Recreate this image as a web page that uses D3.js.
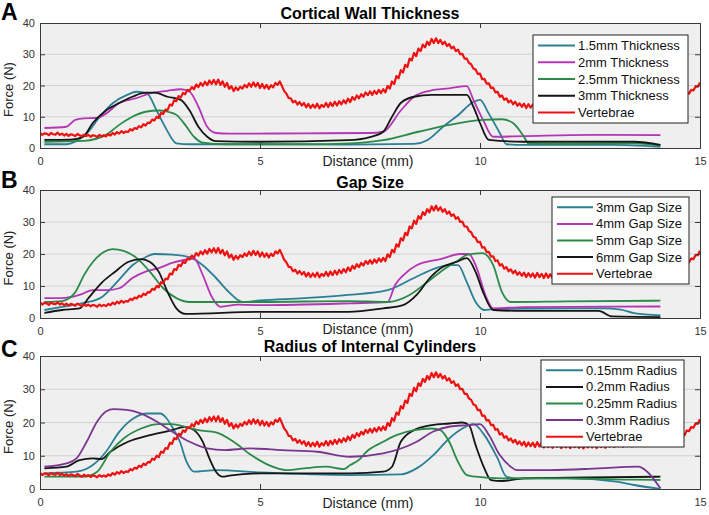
<!DOCTYPE html>
<html>
<head>
<meta charset="utf-8">
<script src="https://cdn.jsdelivr.net/npm/d3@7"></script>
<style>
  body { margin: 0; background: #fff; }
  svg text { font-family: Arial, "Liberation Sans", Helvetica, sans-serif; }
</style>
</head>
<body>
<svg id="chart" width="709" height="515"></svg>
<script>
// ---- data (distance in mm, force in N) ----
const xTicks = [0, 5, 10, 15]
const yTicks = [0, 10, 20, 30, 40]
const panelLetters = ['A', 'B', 'C']
const panelTitles = ['Cortical Wall Thickness', 'Gap Size', 'Radius of Internal Cylinders']

const legendA = ['1.5mm Thickness', '2mm Thickness', '2.5mm Thickness', '3mm Thickness', 'Vertebrae']
const legendB = ['3mm Gap Size', '4mm Gap Size', '5mm Gap Size', '6mm Gap Size', 'Vertebrae']
const legendC = ['0.15mm Radius', '0.2mm Radius', '0.25mm Radius', '0.3mm Radius', 'Vertebrae']

// vertebrae force, one reading every 0.05 mm from 0 to 15 mm (noisy trace)
const vertebrae = [
  4.9, 4.2, 4.7, 4.6, 4.1, 4.8, 4.4, 4.3, 4.9, 4.2,
  4.6, 4.0, 4.5, 3.9, 4.4, 4.2, 3.8, 4.5, 4.1, 3.7,
  4.3, 3.8, 4.2, 3.6, 4.1, 3.9, 3.5, 4.2, 3.7, 4.1,
  3.7, 4.4, 4.0, 4.8, 4.3, 5.1, 4.6, 5.4, 4.8, 5.3,
  5.1, 6.0, 5.6, 6.4, 6.1, 7.0, 6.6, 7.6, 7.2, 8.1,
  8.0, 9.1, 8.8, 10.0, 9.6, 11.2, 10.9, 12.3, 12.1, 13.9,
  13.6, 15.3, 15.0, 16.6, 16.2, 17.6, 17.2, 18.6, 18.3, 19.5,
  18.8, 20.3, 19.5, 20.8, 19.9, 21.2, 20.1, 21.6, 20.5, 21.8,
  20.4, 21.9, 20.2, 21.3, 19.6, 20.8, 18.9, 19.8, 18.2, 19.4,
  18.5, 19.6, 19.0, 20.2, 19.4, 20.7, 19.6, 21.0, 19.7, 20.8,
  19.2, 20.5, 19.1, 20.2, 18.9, 20.1, 19.4, 20.8, 20.2, 21.3,
  19.8, 18.2, 17.4, 16.0, 15.9, 14.6, 15.1, 13.9, 14.7, 13.6,
  14.4, 13.0, 14.1, 12.8, 13.9, 12.9, 14.2, 12.7, 13.8, 13.1,
  14.4, 13.1, 14.5, 13.4, 14.8, 13.6, 15.0, 14.0, 15.3, 14.3,
  15.8, 14.7, 16.3, 15.4, 16.8, 15.9, 17.2, 16.4, 17.8, 16.9,
  18.1, 17.0, 18.3, 17.3, 18.6, 17.6, 18.8, 17.8, 19.9, 19.0,
  21.3, 20.5, 23.0, 22.3, 24.9, 24.2, 26.6, 25.9, 28.6, 28.0,
  30.4, 29.4, 31.8, 31.0, 33.1, 32.2, 34.0, 33.0, 34.9, 33.6,
  35.1, 33.6, 34.6, 33.2, 34.0, 32.6, 33.3, 31.9, 32.4, 31.0,
  31.5, 30.0, 30.1, 28.6, 28.6, 27.2, 26.8, 25.4, 25.1, 23.7,
  23.8, 22.0, 22.1, 20.6, 20.7, 19.2, 19.3, 17.8, 18.0, 16.4,
  16.8, 15.4, 15.9, 14.6, 15.2, 14.0, 14.8, 13.5, 14.3, 13.2,
  14.2, 12.8, 14.0, 12.9, 13.9, 12.6, 14.1, 12.8, 13.8, 12.5,
  13.9, 12.6, 13.7, 12.4, 13.8, 12.7, 13.5, 12.3, 13.6, 12.5,
  13.7, 12.3, 13.5, 12.6, 13.8, 12.4, 13.4, 12.2, 13.6, 12.5,
  13.8, 12.5, 13.6, 12.3, 13.9, 12.6, 13.7, 12.4, 13.8, 12.7,
  13.9, 12.6, 13.8, 12.8, 14.0, 12.7, 13.9, 12.9, 14.1, 12.8,
  14.0, 12.9, 14.2, 13.0, 14.1, 12.9, 14.3, 13.1, 14.2, 13.2,
  14.4, 13.3, 14.6, 13.8, 15.0, 14.3, 15.5, 14.9, 16.0, 15.4,
  16.3, 15.6, 16.9, 16.2, 17.6, 17.4, 18.6, 18.4, 19.7, 19.6,
  21.0
]

// A: cortical wall thickness
const thick15 = [[0.1,1.2],[0.6,1.2],[0.8,2],[1.07,4.8],[1.36,10],[1.66,14.4],[1.98,17],[2.2,18],[2.43,17.5],[2.65,12],[2.88,5.8],[3.1,1.5],[3.4,1.2],[5,1.2],[7,1.1],[8.5,1.3],[8.8,2.5],[9.16,6.8],[9.5,10.5],[9.85,14.7],[10,15.4],[10.2,11],[10.45,4.8],[10.6,1.2],[11,1],[13,1],[14.1,0.4]]
const thick2 = [[0.1,6.4],[0.6,6.8],[0.8,9],[1,9.5],[1.3,9.6],[1.5,11],[1.8,14.4],[2.2,16],[2.5,17.5],[2.9,18.3],[3.2,18.8],[3.4,18],[3.6,13.2],[3.8,6.8],[4,4.8],[4.3,4.6],[6,4.7],[7.5,4.8],[7.8,5.2],[8.2,12],[8.5,16.4],[8.86,18.3],[9.3,19.1],[9.7,19.8],[9.85,15.4],[10.07,9],[10.3,3.6],[11,3.8],[12.5,4.2],[14.1,4.1]]
const thick25 = [[0.1,2],[1,2.3],[1.5,4.2],[1.8,7.4],[2.1,10],[2.4,11.6],[2.7,12],[2.9,11.6],[3.1,10.6],[3.3,7.4],[3.5,3.6],[3.7,1.7],[4.2,1.2],[6,1.2],[7.05,1.5],[7.8,2.5],[8.6,5.2],[9.3,7.4],[10.07,9],[10.5,9.2],[10.75,8],[11,3.6],[11.1,1.5],[12,1.3],[13.5,1.5],[14.1,0.8]]
const thick3 = [[0.1,2.6],[0.7,2.7],[0.98,3.6],[1.2,8],[1.5,12],[1.8,14.4],[2.1,16.4],[2.4,17.7],[2.6,17.7],[2.9,16.4],[3.2,15.4],[3.4,12],[3.6,6.8],[3.8,3.6],[4,2.2],[5,2],[7,2.5],[7.5,3.5],[7.8,5.2],[8,10],[8.2,14.4],[8.5,16.4],[8.9,17],[9.5,17],[9.7,17],[9.85,13.2],[10,8],[10.2,2.6],[11,2],[13.5,2],[14.1,1]]

// B: gap size
const gap3 = [[0.1,2.5],[0.5,3.5],[1,4.7],[1.4,6.5],[1.8,12],[2.1,16.5],[2.4,19],[2.6,20],[3,19.8],[3.4,19],[3.7,16.5],[4,12.5],[4.3,8],[4.6,5],[5,5.5],[6,6.2],[7,7.2],[7.9,8.7],[8.5,12.5],[9,15.6],[9.3,16.5],[9.5,16.5],[9.7,11.2],[9.9,5],[10.1,2.5],[10.3,2.8],[12.8,3],[13.2,2.6],[13.5,1.5],[14.1,0.8]]
const gap4 = [[0.1,6.2],[0.5,6.2],[0.9,7.2],[1.2,8.7],[1.5,8.7],[1.8,9.3],[2.1,12.5],[2.4,14.5],[2.7,15.6],[3,17.2],[3.3,18.2],[3.5,18.6],[3.7,13.4],[3.9,6.7],[4.1,3.5],[4.5,4.2],[5,4],[7.05,4.6],[7.9,5],[8.07,10.3],[8.26,13.4],[8.56,16.5],[9.1,18.4],[9.55,20],[9.75,20],[9.9,16.5],[10.15,6.2],[10.3,3],[11,3.4],[14.1,3.6]]
const gap5 = [[0.1,5],[0.5,5.3],[0.8,8],[1,13.4],[1.2,17.5],[1.45,20.6],[1.65,21.5],[1.9,21],[2.2,18.7],[2.5,14.4],[2.8,9.3],[3.1,6.2],[3.4,5],[5,5],[7,5.3],[7.9,5],[8.4,7.2],[8.8,11.2],[9.1,14.4],[9.5,18],[9.7,19.7],[10.05,20.3],[10.3,16.5],[10.5,8.1],[10.7,5],[12,5.2],[14.1,5.4]]
const gap6 = [[0.1,1.6],[0.5,2.5],[0.9,3],[1.1,6.2],[1.4,11],[1.7,14.4],[2,17.5],[2.3,18.4],[2.5,17.5],[2.7,14.4],[2.9,8.1],[3.1,3],[3.3,1.3],[5,1.9],[7,1.9],[7.8,3],[8.25,4],[8.56,7.2],[8.86,12.5],[9.16,16],[9.46,17.5],[9.7,18.7],[9.9,14.4],[10.07,8.1],[10.3,2.5],[11,2.2],[12.7,2.2],[13,0.5],[14.1,0.3]]

// C: radius of internal cylinders
const rad015 = [[0.1,4.7],[0.83,5.2],[1.2,7.2],[1.5,11.2],[1.8,17.2],[2.12,21.2],[2.43,22.7],[2.73,22.7],[2.88,21.2],[3,18.7],[3.18,14.2],[3.33,8.2],[3.5,5.2],[4,5.7],[5,5],[7.05,4.2],[8.2,4.4],[8.56,6.2],[8.94,10.2],[9.3,15.2],[9.6,18.2],[9.85,19.5],[10.1,16.2],[10.4,9.2],[10.6,3.7],[10.8,3.2],[12,3.2],[13.1,2.2],[13.5,1.2],[14.1,0]]
const rad02 = [[0.1,6.2],[0.6,6.7],[0.9,8.7],[1.2,9.2],[1.4,9],[1.6,11.2],[2,14.2],[2.5,16.2],[3,17.7],[3.3,18.7],[3.5,17.7],[3.7,14.2],[3.85,9.2],[4,5.2],[4.15,3.7],[4.3,4],[5,4.7],[7.05,4.7],[7.8,5.2],[8,6.7],[8.2,14.2],[8.5,17.7],[8.9,19.2],[9.3,19.7],[9.6,20],[9.75,19.2],[9.9,13.2],[10.1,6.2],[10.25,2.7],[10.5,2.4],[11,3.2],[12,3.4],[14.1,3.7]]
const rad025 = [[0.1,3.7],[1,3.7],[1.3,5.2],[1.6,11.2],[1.9,15.2],[2.3,18.2],[2.7,19.5],[3,19.5],[3.3,18.7],[3.6,17.7],[4,17],[4.4,14.2],[4.8,10.2],[5.2,7.2],[5.6,5.7],[6,6.2],[6.5,6.7],[6.9,6],[7.05,7.2],[7.27,9],[7.42,11.2],[7.8,14.2],[8.1,16.2],[8.5,17.7],[8.9,18.2],[9.1,17.7],[9.3,14.2],[9.5,8.2],[9.7,4.2],[9.9,3.7],[10.5,3.2],[12,3.2],[13.5,2.8],[14.1,2.7]]
const rad03 = [[0.1,6.7],[0.6,7.7],[0.83,9.2],[1.06,14.2],[1.3,20.3],[1.5,23.3],[1.67,24],[1.97,23.8],[2.27,22.8],[2.65,20.3],[3,17.3],[3.4,14.2],[3.8,12.2],[4.2,11.7],[4.77,12.2],[5.5,11.7],[6.3,11.2],[7.05,9.7],[7.8,10.7],[8.56,14.2],[8.94,17.3],[9.32,18.8],[9.7,19.2],[10,19.5],[10.2,16.3],[10.45,10.2],[10.7,6.7],[10.83,5.7],[11.6,5.7],[12.7,6.2],[13.6,6.7],[13.8,5.2],[14.1,0.2]]

// ---- layout ----
const svg = d3.select('#chart')
const left = 40, right = 700

const teal = '#2b7f95', magenta = '#b535b5', green = '#2a8a48', black = '#151515', red = '#ee1111', purple = '#7a3590'

const panels = [
  { top: 23, bottom: 148, series: [thick15, thick2, thick25, thick3], colors: [teal, magenta, green, black], legend: legendA,
    letterY: 20, titleY: 19, xlabY: 166, lx: 533, ly: 35, lw: 155, lh: 88, lineW: 37 },
  { top: 190, bottom: 318, series: [gap3, gap4, gap5, gap6], colors: [teal, magenta, green, black], legend: legendB,
    letterY: 188, titleY: 188, xlabY: 334, lx: 552, ly: 197, lw: 137, lh: 87, lineW: 36 },
  { top: 356, bottom: 489, series: [rad015, rad02, rad025, rad03], colors: [teal, black, green, purple], legend: legendC,
    letterY: 357, titleY: 352, xlabY: 508, lx: 541, ly: 360, lw: 143, lh: 87, lineW: 37 }
]

const vertebraePts = vertebrae.map((v, i) => [i / 20, v])

panels.forEach((p, k) => {
  const x = d3.scaleLinear().domain([0, 15]).range([left, right])
  const y = d3.scaleLinear().domain([0, 40]).range([p.bottom, p.top])
  const g = svg.append('g')

  g.append('rect')
    .attr('x', left).attr('y', p.top)
    .attr('width', right - left).attr('height', p.bottom - p.top)
    .attr('fill', '#efefef')

  // grid
  g.selectAll('.grid')
    .data(yTicks.slice(1, -1))
    .enter().append('line')
    .attr('x1', left).attr('x2', right)
    .attr('y1', d => y(d)).attr('y2', d => y(d))
    .attr('stroke', '#d2d2d2').attr('stroke-width', 1)

  const clipId = 'clip' + k
  g.append('clipPath').attr('id', clipId)
    .append('rect')
    .attr('x', left).attr('y', p.top)
    .attr('width', right - left).attr('height', p.bottom - p.top)

  const line = d3.line()
    .x(d => x(d[0]))
    .y(d => y(d[1]))
    .curve(d3.curveMonotoneX)

  const lines = g.append('g').attr('clip-path', 'url(#' + clipId + ')')
  p.series.forEach((s, i) => {
    lines.append('path')
      .attr('d', line(s))
      .attr('fill', 'none')
      .attr('stroke', p.colors[i])
      .attr('stroke-width', 1.8)
  })

  const redLine = d3.line()
    .x(d => x(d[0]))
    .y(d => y(d[1]))
  lines.append('path')
    .attr('d', redLine(vertebraePts))
    .attr('fill', 'none')
    .attr('stroke', red)
    .attr('stroke-width', 2.2)
    .attr('stroke-linejoin', 'round')

  // axes (ticks inside, like matlab)
  const axL = g.append('g').attr('transform', 'translate(' + left + ',0)')
    .call(d3.axisLeft(y).tickValues(yTicks).tickSize(-5).tickPadding(5))
  const axB = g.append('g').attr('transform', 'translate(0,' + p.bottom + ')')
    .call(d3.axisBottom(x).tickValues(xTicks).tickSize(-5).tickPadding(9))
  const axT = g.append('g').attr('transform', 'translate(0,' + p.top + ')')
    .call(d3.axisTop(x).tickValues(xTicks).tickSize(-5).tickFormat(''))
  const axR = g.append('g').attr('transform', 'translate(' + right + ',0)')
    .call(d3.axisRight(y).tickValues(yTicks).tickSize(-5).tickFormat(''))
  ;[axL, axB, axT, axR].forEach(a => {
    a.select('.domain').attr('stroke', '#3a3a3a')
    a.selectAll('.tick line').attr('stroke', '#3a3a3a')
    a.selectAll('text').attr('font-size', 11).attr('fill', '#333')
      .style('font-family', 'Arial, "Liberation Sans", sans-serif')
  })

  // labels
  g.append('text')
    .attr('x', 1).attr('y', p.letterY)
    .attr('font-size', 23).attr('font-weight', 'bold')
    .text(panelLetters[k])

  g.append('text')
    .attr('x', (left + right) / 2).attr('y', p.titleY)
    .attr('text-anchor', 'middle')
    .attr('font-size', 16).attr('font-weight', 'bold')
    .text(panelTitles[k])

  g.append('text')
    .attr('x', 368).attr('y', p.xlabY)
    .attr('text-anchor', 'middle')
    .attr('font-size', 14).attr('fill', '#222')
    .text('Distance (mm)')

  g.append('text')
    .attr('transform', 'translate(13,' + ((p.top + p.bottom) / 2 + 4) + ') rotate(-90)')
    .attr('text-anchor', 'middle')
    .attr('font-size', 13).attr('fill', '#222')
    .text('Force (N)')

  // legend
  const lg = g.append('g')
  lg.append('rect')
    .attr('x', p.lx).attr('y', p.ly)
    .attr('width', p.lw).attr('height', p.lh)
    .attr('fill', '#fff').attr('stroke', '#222').attr('stroke-width', 1)
  const legColors = p.colors.concat([red])
  const rowH = (p.lh - 4) / 5
  p.legend.forEach((name, i) => {
    const cy = p.ly + 2 + rowH * (i + 0.5)
    lg.append('line')
      .attr('x1', p.lx + 5).attr('x2', p.lx + 5 + p.lineW)
      .attr('y1', cy).attr('y2', cy)
      .attr('stroke', legColors[i]).attr('stroke-width', 2)
    lg.append('text')
      .attr('x', p.lx + 8 + p.lineW).attr('y', cy + 4.5)
      .attr('font-size', 13).attr('fill', '#111')
      .text(name)
  })
})
</script>
</body>
</html>
